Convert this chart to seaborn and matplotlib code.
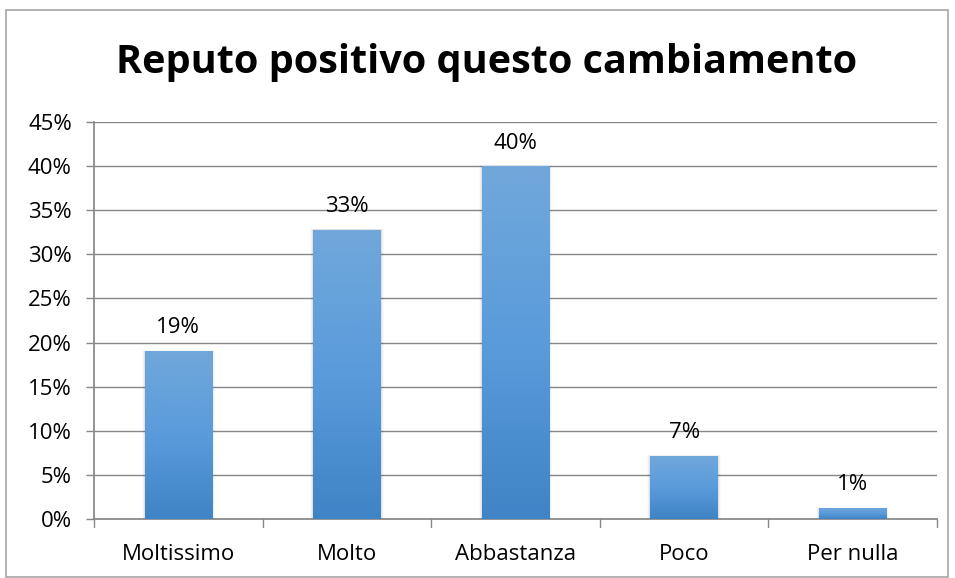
import numpy as np
import pandas as pd
import matplotlib
matplotlib.use("Agg")
import matplotlib.pyplot as plt
import seaborn as sns
from matplotlib.colors import LinearSegmentedColormap
from matplotlib.patches import Rectangle

categories = ["Moltissimo", "Molto", "Abbastanza", "Poco", "Per nulla"]
values = [19.05, 32.8, 40.0, 7.15, 1.25]
labels = ["19%", "33%", "40%", "7%", "1%"]
yticks = [0, 5, 10, 15, 20, 25, 30, 35, 40, 45]
title = "Reputo positivo questo cambiamento"

sns.set_theme(style="white")
plt.rcParams['font.family'] = ['Open Sans', 'DejaVu Sans']
plt.rcParams['text.color'] = 'black'
plt.rcParams['xtick.color'] = 'black'
plt.rcParams['ytick.color'] = 'black'

fig = plt.figure(figsize=(9.55, 5.78), dpi=100)
ax = fig.add_axes([94/955, 1-519/578, (937-94)/955, (519-122)/578])

df = pd.DataFrame({"cat": categories, "val": values})
sns.barplot(data=df, x="cat", y="val", ax=ax, color="#5B9BD5", width=0.40, zorder=3)

cmap = LinearSegmentedColormap.from_list("g", ["#3F84C6", "#5A9BDB", "#71A8DB"])
grad = np.linspace(0, 1, 256).reshape(-1, 1)
for p in list(ax.patches):
    x0, y0 = p.get_x(), p.get_y()
    w, h = p.get_width(), p.get_height()
    # soft shadow
    for k, a in enumerate([0.06, 0.04, 0.02]):
        d = (k + 1) * 0.006
        sh = Rectangle((x0 - d, y0), w + 2 * d, h + d * 4, facecolor="black", alpha=a,
                       edgecolor="none", zorder=2)
        ax.add_patch(sh)
    im = ax.imshow(grad, extent=(x0, x0 + w, y0, y0 + h), origin="lower", cmap=cmap,
                   aspect="auto", zorder=3.5)
    im.set_clip_path(p)
    p.set_edgecolor("none")

for i, (v, lab) in enumerate(zip(values, labels)):
    ax.annotate(lab, (i, v), xytext=(0, 9), textcoords="offset points", ha="center",
                va="bottom", fontsize=16, color="black")

ax.set_ylim(0, 45)
ax.set_xlim(-0.5, len(categories) - 0.5)
ax.set_yticks(yticks)
ax.set_yticklabels([f"{t}%" for t in yticks], fontsize=16)
ax.set_xticks(range(len(categories)))
ax.set_xticklabels(categories, fontsize=16)
ax.tick_params(axis="x", length=0, pad=18)
ax.tick_params(axis="y", length=6, width=1, color="#878787", direction="out", pad=10, left=True,
               labelcolor="black")
# x ticks between categories
for xb in np.arange(-0.5, len(categories), 1.0):
    ax.plot([xb, xb], [0, -0.02], transform=ax.get_xaxis_transform(), color="#878787",
            lw=1, clip_on=False, zorder=1)
ax.set_xlabel("")
ax.set_ylabel("")
ax.grid(axis="y", color="#878787", lw=1, zorder=0)
ax.set_axisbelow(True)
for s in ["top", "right"]:
    ax.spines[s].set_visible(False)
ax.spines["left"].set_color("#878787")
ax.spines["bottom"].set_color("#878787")

fig.text(487/955, 1 - 62/578, title, ha="center", va="center", fontsize=28.5, fontweight="bold",
         color="black")
fig.patches.append(Rectangle((6/955, 1-577/578), 942/955, (577-10)/578, transform=fig.transFigure,
                             fill=False, edgecolor="#A6A6A6", lw=1.2))

fig.savefig("out.png", dpi=100)
